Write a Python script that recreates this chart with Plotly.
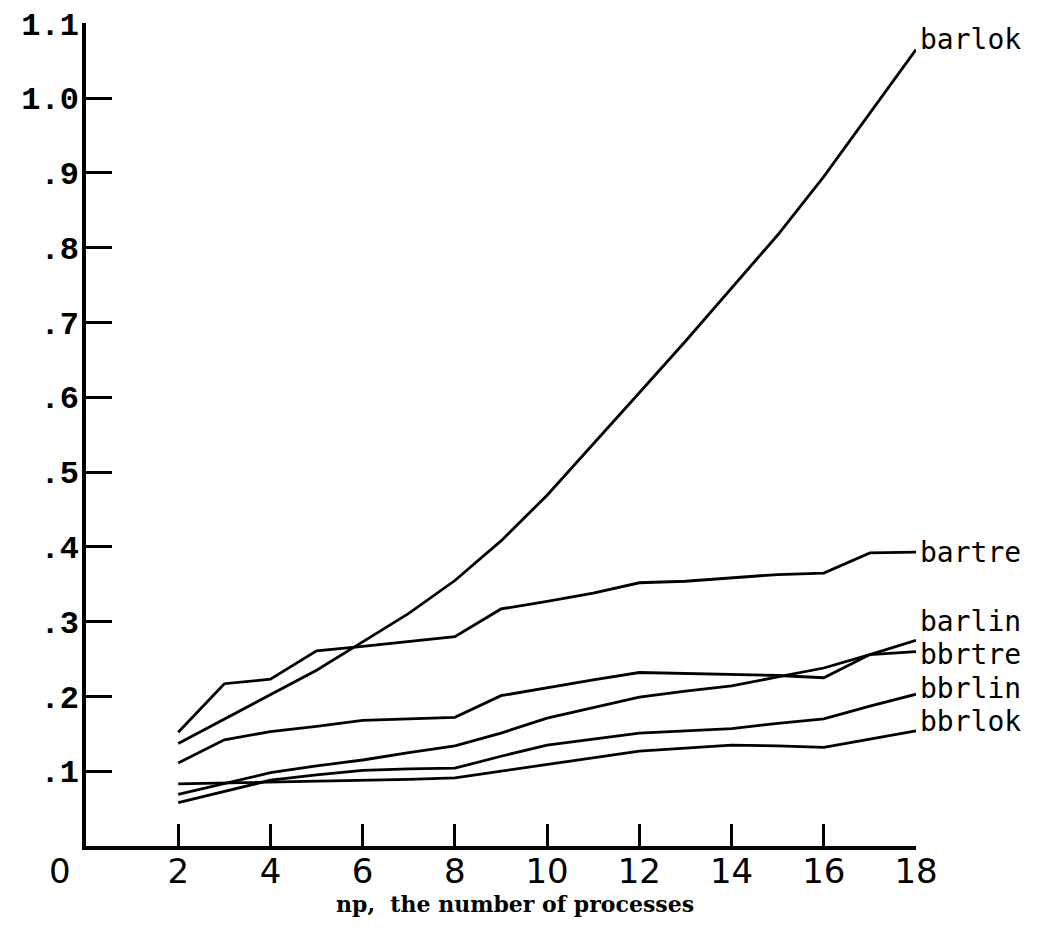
import plotly.graph_objects as go

# ---- data ----
np_values = [2, 3, 4, 5, 6, 7, 8, 9, 10, 11, 12, 13, 14, 15, 16, 17, 18]

barlok = [0.137, 0.170, 0.202, 0.235, 0.273, 0.311, 0.355, 0.408, 0.469, 0.537,
          0.606, 0.675, 0.746, 0.817, 0.895, 0.980, 1.065]
bartre = [0.152, 0.217, 0.223, 0.261, 0.267, 0.273, 0.280, 0.317, 0.327, 0.338,
          0.352, 0.354, 0.359, 0.363, 0.365, 0.392, 0.393]
barlin = [0.069, 0.084, 0.098, 0.107, 0.115, 0.125, 0.134, 0.151, 0.171, 0.185,
          0.199, 0.207, 0.214, 0.226, 0.238, 0.256, 0.275]
bbrtre = [0.111, 0.142, 0.153, 0.160, 0.168, 0.170, 0.172, 0.201, 0.212, 0.222,
          0.232, 0.231, 0.229, 0.228, 0.225, 0.256, 0.260]
bbrlin = [0.058, 0.073, 0.088, 0.095, 0.101, 0.103, 0.104, 0.120, 0.135, 0.143,
          0.151, 0.154, 0.157, 0.164, 0.170, 0.187, 0.203]
bbrlok = [0.083, 0.084, 0.085, 0.086, 0.087, 0.089, 0.091, 0.100, 0.109, 0.118,
          0.127, 0.131, 0.135, 0.134, 0.132, 0.143, 0.154]

series_names = ["barlok", "bartre", "barlin", "bbrtre", "bbrlin", "bbrlok"]
series_values = [barlok, bartre, barlin, bbrtre, bbrlin, bbrlok]

x_tick_vals = [2, 4, 6, 8, 10, 12, 14, 16, 18]
x_tick_text = ["2", "4", "6", "8", "10", "12", "14", "16", "18"]
y_tick_vals = [0.1, 0.2, 0.3, 0.4, 0.5, 0.6, 0.7, 0.8, 0.9, 1.0, 1.1]
y_tick_text = [".1", ".2", ".3", ".4", ".5", ".6", ".7", ".8", ".9", "1.0", "1.1"]
x_title = "np,  the number of processes"

# ---- figure ----
fig = go.Figure()
for name, vals in zip(series_names, series_values):
    fig.add_trace(go.Scatter(x=np_values, y=vals, mode="lines", name=name,
                             line=dict(color="black", width=2.8),
                             cliponaxis=False, showlegend=False))

# label offsets (pixels) relative to each line's end
label_shift = {"barlok": (2, 10), "bartre": (2, 0), "barlin": (2, 19),
               "bbrtre": (2, -3), "bbrlin": (2, 6), "bbrlok": (2, 9)}
for name, vals in zip(series_names, series_values):
    dx, dy = label_shift[name]
    fig.add_annotation(x=np_values[-1], y=vals[-1], xref="x", yref="y",
                       text=name, showarrow=False, xanchor="left", yanchor="middle",
                       xshift=dx, yshift=dy,
                       font=dict(family="DejaVu Sans Mono", size=28, color="black"))

# origin "0"
fig.add_annotation(x=0, y=0, xref="x", yref="y", text="0", showarrow=False,
                   xanchor="center", yanchor="top", xshift=-26, yshift=-3,
                   font=dict(family="DejaVu Sans", size=34, color="black"))

# x title
fig.add_annotation(x=9.3, y=0, xref="x", yref="paper", text=x_title, showarrow=False,
                   xanchor="center", yanchor="middle", yshift=-58,
                   font=dict(family="DejaVu Serif", size=22, color="black", weight="bold"))

fig.update_xaxes(range=[0, 18], showline=True, linecolor="black", linewidth=3.5,
                 showgrid=False, zeroline=False, automargin=False,
                 tickmode="array", tickvals=x_tick_vals, ticktext=x_tick_text,
                 ticks="inside", ticklen=22, tickwidth=3, tickcolor="black",
                 ticklabelstandoff=-8, ticklabeloverflow="allow",
                 tickfont=dict(family="DejaVu Sans", size=34, color="black"))
fig.update_yaxes(range=[0, 1.1005], showline=True, linecolor="black", linewidth=3.5,
                 showgrid=False, zeroline=False, automargin=False,
                 tickmode="array", tickvals=y_tick_vals, ticktext=y_tick_text,
                 ticks="inside", ticklen=26, tickwidth=3, tickcolor="black",
                 ticklabelstandoff=-3, ticklabeloverflow="allow",
                 tickfont=dict(family="Liberation Mono", size=32, color="black", weight="bold"))

fig.update_layout(width=1044, height=950,
                  margin=dict(l=78, r=136, t=15, b=112),
                  plot_bgcolor="white", paper_bgcolor="white")

fig.write_html("out.html")
